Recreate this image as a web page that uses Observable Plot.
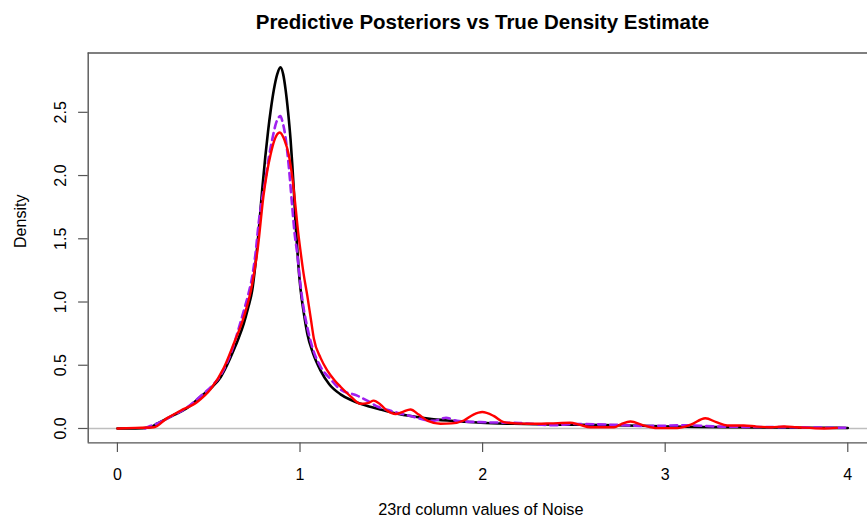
<!DOCTYPE html>
<html>
<head>
<meta charset="utf-8">
<script src="https://cdn.jsdelivr.net/npm/d3@7"></script>
<script src="https://cdn.jsdelivr.net/npm/@observablehq/plot@0.6"></script>
<style>
  html, body { margin: 0; padding: 0; background: white; }
</style>
</head>
<body>
<div id="chart"></div>
<script>
const title = "Predictive Posteriors vs True Density Estimate";
const xLabel = "23rd column values of Noise";
const yLabel = "Density";
const xTicks = [0, 1, 2, 3, 4];
const yTicks = [0, 0.5, 1.0, 1.5, 2.0, 2.5];
const xDomain = [-0.16, 4.108];
const yDomain = [-0.114, 2.969];

// True density estimate (black)
const trueX = [0, 0.1, 0.18, 0.22, 0.3, 0.38, 0.455, 0.52, 0.565, 0.6, 0.637, 0.665, 0.692, 0.715, 0.738, 0.756, 0.775, 0.793, 0.81, 0.825, 0.84, 0.857, 0.875, 0.893, 0.908, 0.921, 0.935, 0.948, 0.958, 0.966, 0.975, 0.985, 0.995, 1.003, 1.02, 1.04, 1.07, 1.112, 1.16, 1.222, 1.28, 1.331, 1.39, 1.44, 1.52, 1.596, 1.7, 1.806, 1.9, 1.99, 2.17, 2.35, 2.5, 2.66, 2.85, 3.03, 3.2, 3.39, 3.6, 3.8, 3.94, 4.0];
const trueY = [0, 0, 0.01, 0.04, 0.1, 0.16, 0.25, 0.33, 0.405, 0.5, 0.62, 0.72, 0.83, 0.95, 1.09, 1.3, 1.58, 1.89, 2.15, 2.35, 2.52, 2.68, 2.8, 2.855, 2.8, 2.68, 2.5, 2.29, 2.08, 1.89, 1.64, 1.42, 1.22, 1.1, 0.92, 0.75, 0.6, 0.46, 0.35, 0.27, 0.225, 0.195, 0.17, 0.15, 0.12, 0.1, 0.078, 0.063, 0.053, 0.045, 0.037, 0.032, 0.03, 0.028, 0.022, 0.016, 0.012, 0.01, 0.008, 0.006, 0.005, 0.004];

// Predictive posterior (purple dashed)
const predX = [0.15, 0.18, 0.22, 0.3, 0.38, 0.455, 0.52, 0.565, 0.6, 0.637, 0.656, 0.692, 0.715, 0.738, 0.756, 0.774, 0.793, 0.811, 0.83, 0.85, 0.87, 0.893, 0.905, 0.92, 0.94, 0.957, 0.97, 0.985, 1.003, 1.02, 1.04, 1.07, 1.112, 1.167, 1.22, 1.313, 1.368, 1.43, 1.496, 1.6, 1.73, 1.8, 1.86, 1.99, 2.2, 2.39, 2.5, 2.7, 2.9, 3.12, 3.3, 3.5, 3.7, 3.9, 4.0];
const predY = [0, 0.02, 0.04, 0.1, 0.165, 0.255, 0.34, 0.42, 0.52, 0.66, 0.75, 0.93, 1.05, 1.2, 1.38, 1.63, 1.82, 1.97, 2.15, 2.3, 2.42, 2.47, 2.42, 2.31, 2.05, 1.76, 1.55, 1.38, 1.13, 0.95, 0.8, 0.63, 0.49, 0.39, 0.31, 0.26, 0.22, 0.17, 0.14, 0.1, 0.06, 0.085, 0.06, 0.05, 0.043, 0.026, 0.035, 0.03, 0.02, 0.025, 0.015, 0.012, 0.01, 0.006, 0.006];

// Predictive posterior (red)
const postX = [0, 0.1, 0.2, 0.27, 0.345, 0.437, 0.51, 0.583, 0.637, 0.692, 0.738, 0.77, 0.8, 0.82, 0.838, 0.86, 0.889, 0.915, 0.939, 0.96, 0.975, 0.99, 1.003, 1.02, 1.04, 1.06, 1.076, 1.112, 1.149, 1.19, 1.222, 1.28, 1.331, 1.37, 1.404, 1.44, 1.478, 1.523, 1.56, 1.605, 1.65, 1.7, 1.77, 1.83, 1.897, 1.95, 1.998, 2.06, 2.116, 2.18, 2.26, 2.37, 2.48, 2.53, 2.59, 2.72, 2.76, 2.81, 2.88, 2.956, 3.066, 3.14, 3.22, 3.28, 3.34, 3.43, 3.5, 3.58, 3.65, 3.72, 3.87, 3.94];
const postY = [0, 0.005, 0.01, 0.08, 0.14, 0.21, 0.31, 0.48, 0.67, 0.88, 1.14, 1.44, 1.84, 2.03, 2.16, 2.28, 2.34, 2.28, 2.16, 1.96, 1.76, 1.55, 1.4, 1.22, 1.05, 0.86, 0.71, 0.56, 0.46, 0.38, 0.33, 0.25, 0.195, 0.2, 0.22, 0.19, 0.14, 0.115, 0.13, 0.15, 0.11, 0.06, 0.037, 0.04, 0.063, 0.11, 0.13, 0.1, 0.05, 0.04, 0.037, 0.04, 0.045, 0.03, 0.01, 0.01, 0.035, 0.055, 0.025, 0.003, 0.003, 0.03, 0.081, 0.05, 0.024, 0.024, 0.015, 0.01, 0.016, 0.01, 0.0, 0.005];

const toRows = (xs, ys) => xs.map((x, i) => ({x, y: ys[i]}));
const trueRows = toRows(trueX, trueY);
const predRows = toRows(predX, predY);
const postRows = toRows(postX, postY);

const font = "'Liberation Sans', Arial, Helvetica, sans-serif";
const boxColor = "#555";

const chart = Plot.plot({
  width: 867,
  height: 525,
  marginLeft: 87.7,
  marginRight: 0,
  marginTop: 52.5,
  marginBottom: 82.6,
  style: {fontFamily: font, fontSize: "16px", color: "#000", background: "white", overflow: "visible"},
  x: {domain: xDomain, axis: null},
  y: {domain: yDomain, axis: null},
  marks: [
    Plot.ruleY([0], {stroke: "#bebebe", strokeWidth: 1.5}),
    Plot.line(trueRows, {x: "x", y: "y", stroke: "#000", strokeWidth: 2.6, curve: "monotone-x"}),
    Plot.line(predRows, {x: "x", y: "y", stroke: "#a020f0", strokeWidth: 2.6, strokeDasharray: "7,5", curve: "monotone-x"}),
    Plot.line(postRows, {x: "x", y: "y", stroke: "#ff0000", strokeWidth: 2.4, curve: "monotone-x"}),
    Plot.ruleY(yDomain, {stroke: boxColor, strokeWidth: 1.4}),
    Plot.ruleX([xDomain[0]], {stroke: boxColor, strokeWidth: 1.4}),
    Plot.axisX(xTicks, {tickSize: 9.6, tickPadding: 16, tickFormat: d => String(d), stroke: boxColor, strokeWidth: 1.2, fontSize: 16, label: null}),
    Plot.axisY(yTicks, {tickSize: 9.6, tickRotate: -90, tickPadding: 13, tickFormat: d => d.toFixed(1), stroke: boxColor, strokeWidth: 1.2, fontSize: 16, label: null}),
    Plot.text([title], {text: d => d, frameAnchor: "top", dy: -39, dx: 4.6, fontWeight: "bold", fontSize: 20.5}),
    Plot.text([xLabel], {text: d => d, frameAnchor: "bottom", dy: 71.6, dx: 3, fontSize: 16.3}),
    Plot.text([yLabel], {text: d => d, frameAnchor: "left", dx: -67.7, rotate: -90, fontSize: 16})
  ]
});
document.getElementById("chart").appendChild(chart);
</script>
</body>
</html>
